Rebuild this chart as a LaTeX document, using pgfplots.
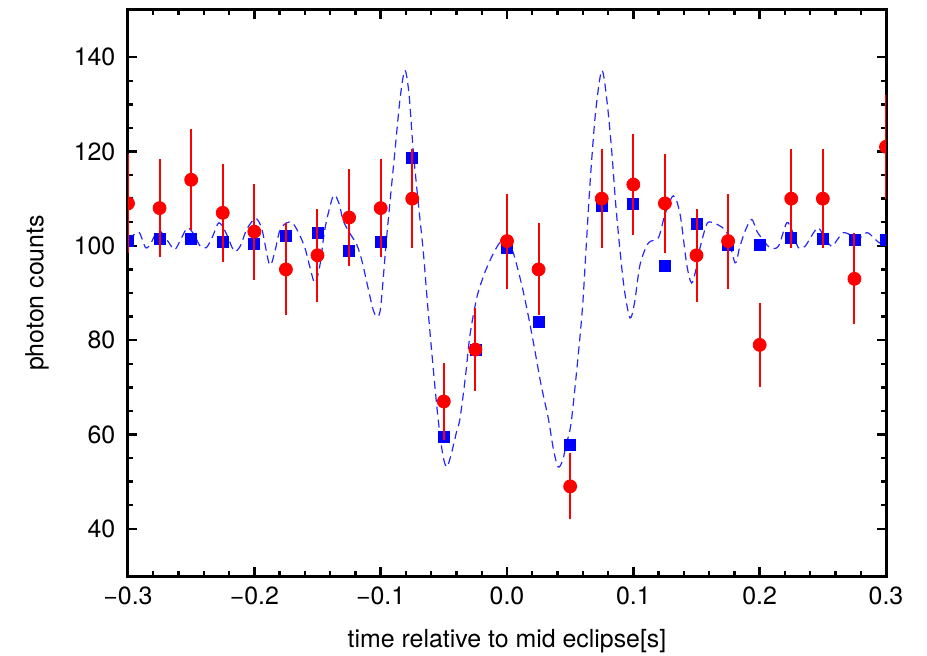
\documentclass[border=0pt]{standalone}
\usepackage{pgfplots}
\pgfplotsset{compat=1.18}
\usepackage{fontspec}
\setmainfont{TeX Gyre Heros}

\begin{document}
\begin{tikzpicture}
\fontsize{12.5}{15}\selectfont
\begin{axis}[
  name=ax,
  scale only axis,
  width=379bp, height=283bp,
  xmin=-0.3, xmax=0.3, ymin=30, ymax=150,
  clip marker paths=true,
  unbounded coords=jump,
  xtick={-0.3,-0.2,-0.1,0,0.1,0.2,0.3},
  xticklabels={−0.3,−0.2,−0.1,0.0,0.1,0.2,0.3},
  ytick={40,60,80,100,120,140},
  minor x tick num=4, minor y tick num=3,
  tick align=inside,
  major tick length=4.5bp, minor tick length=2.5bp,
  every tick/.style={black, line width=1.2bp},
  axis line style={line width=1.5bp},
  /pgf/number format/assume math mode=true,
  yticklabel style={xshift=-2bp},
  xticklabel style={yshift=-1bp},
  xlabel={time relative to mid eclipse[s]},
  ylabel={photon counts},
  xlabel style={yshift=-4bp},
  ylabel style={yshift=4bp},
]
% model curve
\addplot[blue!85, line width=0.6bp, dash pattern=on 4bp off 2.5bp, smooth, tension=0.5] coordinates {
(-0.300,101.5) (-0.295,102.4) (-0.291,102.8) (-0.286,99.6) (-0.282,100.5)
(-0.278,102.6) (-0.274,103.0) (-0.268,100.8) (-0.263,99.2) (-0.258,101.5)
(-0.253,103.8) (-0.248,102.5) (-0.243,100.0) (-0.238,99.6) (-0.233,102.0)
(-0.228,104.9) (-0.222,102.5) (-0.216,98.9) (-0.211,100.0) (-0.206,103.5)
(-0.199,105.8) (-0.194,103.5) (-0.188,96.0) (-0.184,98.5) (-0.180,103.1)
(-0.175,104.8) (-0.170,104.9) (-0.165,102.8) (-0.160,99.6) (-0.156,95.5)
(-0.152,92.1) (-0.148,96.0) (-0.144,103.8) (-0.1375,110.6) (-0.133,109.0)
(-0.1296,105.3) (-0.124,102.5) (-0.119,100.3) (-0.115,97.0) (-0.110,91.1)
(-0.106,86.5) (-0.103,85.0) (-0.100,87.0) (-0.0953,101.7) (-0.0887,120.1)
(-0.0845,131.5) (-0.0808,137.2) (-0.0775,132.0) (-0.0742,120.1) (-0.0700,108.5)
(-0.0663,98.9) (-0.0630,88.0) (-0.0596,77.6) (-0.0550,64.5) (-0.0510,56.0)
(-0.0477,53.1) (-0.0440,56.0) (-0.0400,60.5) (-0.0372,63.4) (-0.0330,72.0)
(-0.0293,81.1) (-0.0240,88.9) (-0.0200,92.5) (-0.0161,95.3) (-0.0100,98.8)
(-0.0040,101.2) (0.0010,100.3) (0.0050,98.5) (0.0116,91.8) (0.0170,85.0)
(0.0222,77.6) (0.0270,70.5) (0.0327,63.4) (0.0370,56.5) (0.0406,53.1)
(0.0440,54.5) (0.0470,58.0) (0.0512,63.4) (0.0591,84.7) (0.0625,99.0)
(0.0657,113.1) (0.0700,128.0) (0.0750,137.2) (0.0790,131.0) (0.0829,120.1)
(0.0860,109.0) (0.0895,98.9) (0.0930,90.5) (0.0974,84.7) (0.1010,88.0)
(0.1053,96.0) (0.1119,100.6) (0.1198,101.7) (0.1251,106.7) (0.1317,110.6)
(0.1370,106.7) (0.1423,96.0) (0.1462,92.1) (0.1500,95.5) (0.1528,99.6)
(0.1581,104.6) (0.1620,105.0) (0.1660,104.6) (0.1740,102.8) (0.1805,96.4)
(0.1840,99.5) (0.1884,103.1) (0.1937,105.6) (0.1980,103.0) (0.2040,100.8)
(0.2082,99.6) (0.2148,99.9) (0.2215,104.9) (0.2260,103.0) (0.2306,99.6)
(0.2359,99.9) (0.2420,102.5) (0.2465,103.8) (0.2520,101.5) (0.2571,99.9)
(0.2620,101.5) (0.2663,102.8) (0.2720,102.3) (0.2780,101.5) (0.2848,102.8)
(0.2900,101.8) (0.2953,100.6) (0.3000,101.8)
};
% model binned
\addplot[only marks, mark=square*, mark size=2.75bp, blue] coordinates {
(-0.300,101.1) (-0.275,101.4) (-0.250,101.5) (-0.225,100.9) (-0.200,100.4)
(-0.175,102.1) (-0.150,102.8) (-0.125,98.9) (-0.100,100.9) (-0.075,118.7)
(-0.050,59.5) (-0.025,78.0) (0.000,99.5) (0.025,83.8) (0.050,57.7)
(0.075,108.4) (0.100,108.9) (0.125,95.8) (0.150,104.7) (0.175,100.3)
(0.200,100.2) (0.225,101.7) (0.250,101.5) (0.275,101.3) (0.300,101.3)
};
% error bars of the counts (sqrt N), as vertical segments
\addplot[red, line width=1bp, mark=none] coordinates {
(-0.300,98.56) (-0.300,119.44) (-0.300,nan)
(-0.275,97.61) (-0.275,118.39) (-0.275,nan)
(-0.250,103.32) (-0.250,124.68) (-0.250,nan)
(-0.225,96.66) (-0.225,117.34) (-0.225,nan)
(-0.200,92.85) (-0.200,113.15) (-0.200,nan)
(-0.175,85.25) (-0.175,104.75) (-0.175,nan)
(-0.150,88.10) (-0.150,107.90) (-0.150,nan)
(-0.125,95.70) (-0.125,116.30) (-0.125,nan)
(-0.100,97.61) (-0.100,118.39) (-0.100,nan)
(-0.075,99.51) (-0.075,120.49) (-0.075,nan)
(-0.050,58.81) (-0.050,75.19) (-0.050,nan)
(-0.025,69.17) (-0.025,86.83) (-0.025,nan)
(0.000,90.95) (0.000,111.05) (0.000,nan)
(0.025,85.25) (0.025,104.75) (0.025,nan)
(0.050,42.00) (0.050,56.00) (0.050,nan)
(0.075,99.51) (0.075,120.49) (0.075,nan)
(0.100,102.37) (0.100,123.63) (0.100,nan)
(0.125,98.56) (0.125,119.44) (0.125,nan)
(0.150,88.10) (0.150,107.90) (0.150,nan)
(0.175,90.95) (0.175,111.05) (0.175,nan)
(0.200,70.11) (0.200,87.89) (0.200,nan)
(0.225,99.51) (0.225,120.49) (0.225,nan)
(0.250,99.51) (0.250,120.49) (0.250,nan)
(0.275,83.36) (0.275,102.64) (0.275,nan)
(0.300,110.00) (0.300,132.00)
};
% measured counts
\addplot[only marks, mark=*, mark size=3.25bp, red] coordinates {
(-0.300,109) (-0.275,108) (-0.250,114) (-0.225,107) (-0.200,103)
(-0.175,95) (-0.150,98) (-0.125,106) (-0.100,108) (-0.075,110)
(-0.050,67) (-0.025,78) (0.000,101) (0.025,95) (0.050,49)
(0.075,110) (0.100,113) (0.125,109) (0.150,98) (0.175,101)
(0.200,79) (0.225,110) (0.250,110) (0.275,93) (0.300,121)
};
\end{axis}
\pgfresetboundingbox
\path ([shift={(-64bp,-40bp)}]ax.south west) rectangle ([shift={(20.5bp,5bp)}]ax.north east);
\end{tikzpicture}
\end{document}
